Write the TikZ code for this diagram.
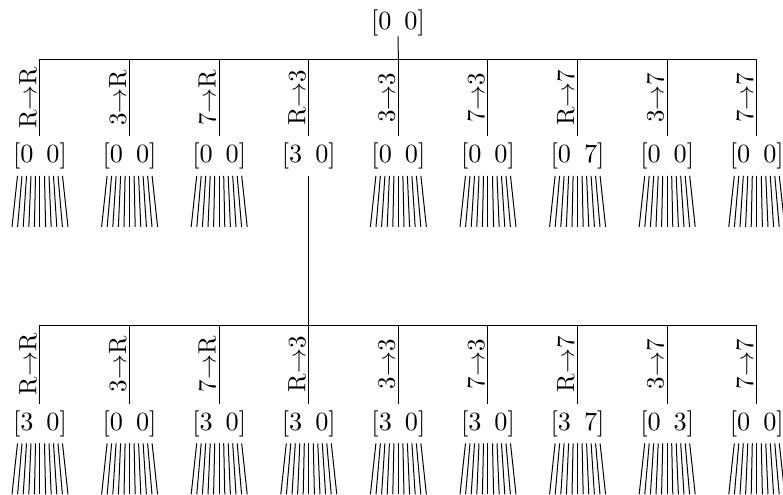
\documentclass[tikz,border=0pt]{standalone}
\newcommand\vpair[2]{[#1\hspace{5.2pt}#2]}
\begin{document}
\begin{tikzpicture}[x=0.4pt,y=-0.4pt,
  val/.style={inner sep=2.5pt, font=\fontsize{10.5}{12}\selectfont},
  rootval/.style={inner sep=0pt, font=\fontsize{10.5}{12}\selectfont},
  lab/.style={rotate=90, anchor=south, inner sep=1pt},
  fanline/.style={line width=0.4pt}]
\useasboundingbox (0,0) rectangle (783,495);
\node[rootval] (root) at (398,22.75) {\vpair{0}{0}};
\foreach \i in {1,...,9} {
  \coordinate (a\i) at ({40+(\i-1)*89.6},59);
  \coordinate (b\i) at ({40+(\i-1)*89.6},325);
}
\draw (a1) -- (a9);
\draw (root.south) -- (a5);
% row 1
\foreach \i/\p/\q/\l in {1/0/0/{R$\to$R},2/0/0/{3$\to$R},3/0/0/{7$\to$R},4/3/0/{R$\to$3},5/0/0/{3$\to$3},6/0/0/{7$\to$3},7/0/7/{R$\to$7},8/0/0/{3$\to$7},9/0/0/{7$\to$7}} {
  \node[val] (c\i) at ({40+(\i-1)*89.6},156) {\vpair{\p}{\q}};
  \draw (a\i) -- node[lab] {\l} (c\i.north);
}
\foreach \i in {1,2,3,5,6,7,8,9} {
  \foreach \k in {-5,...,5} {
    \draw[fanline] ([xshift=\k*1.8pt]c\i.south) -- ++(\k*1.1,51);
  }
}
% row 2
\draw (b1) -- (b9);
\draw (c4.south) -- (b4);
\foreach \i/\p/\q/\l in {1/3/0/{R$\to$R},2/0/0/{3$\to$R},3/3/0/{7$\to$R},4/3/0/{R$\to$3},5/3/0/{3$\to$3},6/3/0/{7$\to$3},7/3/7/{R$\to$7},8/0/3/{3$\to$7},9/0/0/{7$\to$7}} {
  \node[val] (d\i) at ({40+(\i-1)*89.6},423.5) {\vpair{\p}{\q}};
  \draw (b\i) -- node[lab] {\l} (d\i.north);
  \foreach \k in {-5,...,5} {
    \draw[fanline] ([xshift=\k*1.8pt]d\i.south) -- ++(\k*1.1,51);
  }
}
\end{tikzpicture}
\end{document}
